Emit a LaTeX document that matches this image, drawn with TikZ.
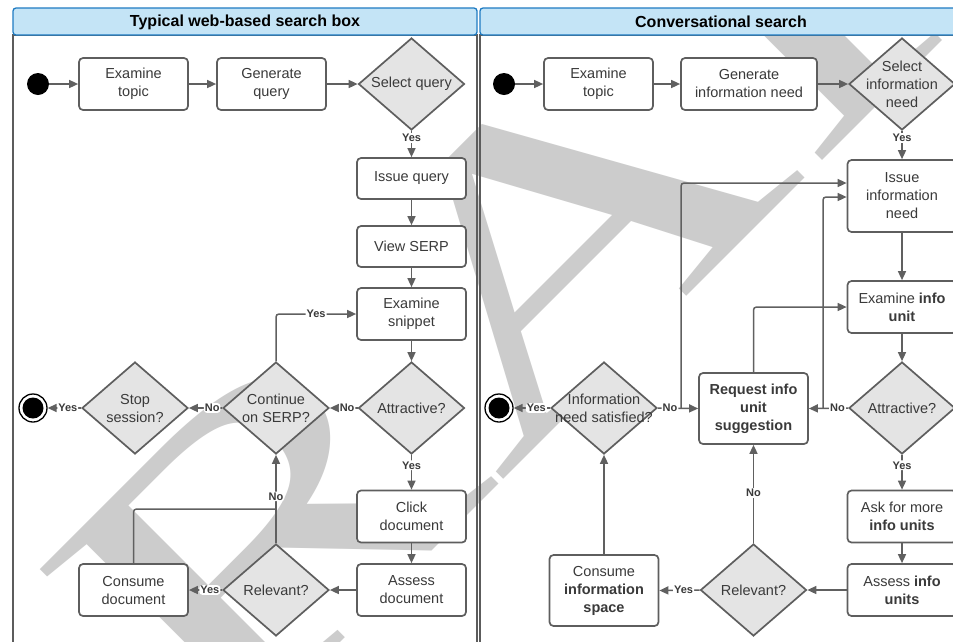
\documentclass[tikz,border=0pt]{standalone}
\usepackage{fontspec}
\setmainfont{Liberation Sans}
\newfontfamily\wmfont{Liberation Serif}
\usetikzlibrary{shapes.geometric,arrows.meta,calc}
\definecolor{hdrfill}{HTML}{C4E4F6}
\definecolor{hdrline}{HTML}{1F7BC2}
\definecolor{framecol}{HTML}{5C5C5C}
\definecolor{boxline}{HTML}{5E5E5E}
\definecolor{txt}{HTML}{3A3A3A}
\definecolor{difill}{HTML}{E4E4E4}
\definecolor{conn}{HTML}{606060}
\definecolor{wmcol}{HTML}{CCCCCC}

\begin{document}
\begin{tikzpicture}[x=1pt,y=-1pt,
  every node/.style={font=\fontsize{14.5}{18}\selectfont, text=txt},
  stepbox/.style={rectangle, rounded corners=4pt, draw=boxline, line width=1.7pt,
    fill=white, minimum width=109pt, minimum height=52pt, align=center, inner sep=2pt},
  decide/.style={diamond, draw=boxline, line width=1.7pt, fill=difill,
    minimum width=106pt, minimum height=92pt, inner sep=0pt},
  dtext/.style={align=center, text=txt, inner sep=0pt},
  startdot/.style={circle, fill=black, minimum size=22pt, inner sep=0pt},
  enddot/.style={circle, draw=black, line width=1.3pt, fill=white, minimum size=28pt,
    inner sep=0pt, path picture={\fill[black] (path picture bounding box.center) circle[radius=10.5pt];}},
  flow/.style={draw=conn, line width=1.5pt, rounded corners=3pt, -{Triangle[length=9pt,width=8pt]}},
  link/.style={draw=conn, line width=1.5pt, rounded corners=3pt},
  yn/.style={font=\bfseries\fontsize{11}{12}\selectfont, fill=white, inner sep=1pt, text=txt},
  hdr/.style={draw=hdrline, line width=1.3pt, fill=hdrfill, rounded corners=3pt},
  lane/.style={draw=framecol, line width=1.8pt, fill=white},
  title/.style={font=\bfseries\fontsize{16}{18}\selectfont, text=black},
  wmark/.style={font=\wmfont\fontsize{403}{403}\selectfont, text=wmcol, inner sep=0pt}
]
\useasboundingbox (0,0) rectangle (953,641);

% swimlanes
\draw[lane] (13,35) rectangle (477,700);
\draw[lane] (480,35) rectangle (962,700);
\draw[hdr] (13,8) rectangle (477,35);
\draw[hdr] (480,8) rectangle (962,35);
\node[title] (t1) at (245,22) {Typical web-based search box};
\node[title] (t2) at (721,22) {Conversational search};

% watermark, behind the flow
\begin{scope}
\clip (0,36) rectangle (953,641);
\node[wmark, rotate=45, xscale=1.5, anchor=base west] (wm) at (-94.7,1077.7) {DRAFT};
\end{scope}
\draw[framecol, line width=1.8pt] (13,35) -- (13,700) (477,35) -- (477,700) (480,35) -- (480,700);

% ---- left lane: search box ----
\node[startdot] (s1) at (38,84) {};
\node[stepbox] (ex1) at (133.5,84) {Examine\\topic};
\node[stepbox] (gen1) at (271.5,84) {Generate\\query};
\node[decide, label={[dtext]center:Select query}] (sel1) at (411.5,84) {};
\node[stepbox, minimum height=41pt] (iss1) at (411.5,178.5) {Issue query};
\node[stepbox, minimum height=41pt] (view1) at (411.5,246.5) {View SERP};
\node[stepbox] (exs1) at (411.5,314) {Examine\\snippet};
\node[decide, label={[dtext]center:Attractive?}] (att1) at (411.5,408) {};
\node[decide, label={[dtext]center:Continue\\on SERP?}] (cont1) at (276,408) {};
\node[decide, label={[dtext]center:Stop\\session?}] (stop1) at (135,408) {};
\node[enddot] (e1) at (33,408) {};
\node[stepbox] (clk1) at (411.5,516.5) {Click\\document};
\node[stepbox] (ass1) at (411.5,590) {Assess\\document};
\node[decide, label={[dtext]center:Relevant?}] (rel1) at (276,590) {};
\node[stepbox] (con1) at (133.5,590) {Consume\\document};
\coordinate (j1) at (276,509);

\draw[flow] (s1) -- (ex1);
\draw[flow] (ex1) -- (gen1);
\draw[flow] (gen1) -- (sel1);
\draw[flow] (sel1.south) -- node[yn, pos=0.27] {Yes} (iss1.north);
\draw[flow] (iss1) -- (view1);
\draw[flow] (view1) -- (exs1);
\draw[flow] (exs1) -- (att1);
\draw[flow] (att1.west) -- node[yn, pos=0.38] {No} (cont1.east);
\draw[flow] (cont1.west) -- node[yn, pos=0.3] {No} (stop1.east);
\draw[flow] (stop1.west) -- node[yn, pos=0.4] {Yes} (e1);
\draw[flow] (cont1.north) |- node[yn, pos=0.75] {Yes} (exs1.west);
\draw[flow] (att1.south) -- node[yn, pos=0.3] {Yes} (clk1.north);
\draw[flow] (clk1) -- (ass1);
\draw[flow] (ass1) -- (rel1);
\draw[flow] (rel1.west) -- node[yn, pos=0.37] {Yes} (con1.east);
\draw[flow] (rel1.north) -- node[yn, pos=0.53] {No} (cont1.south);
\draw[link] (con1.north) |- (j1);

% ---- right lane: conversational search ----
\node[startdot] (s2) at (504,84) {};
\node[stepbox] (ex2) at (598.5,84) {Examine\\topic};
\node[stepbox, minimum width=136pt] (gen2) at (749,84) {Generate\\information need};
\node[decide, label={[dtext]center:Select\\information\\need}] (sel2) at (902,84) {};
\node[stepbox, minimum height=72pt] (iss2) at (902,196) {Issue\\information\\need};
\node[stepbox] (exi2) at (902,307) {Examine \textbf{info}\\\textbf{unit}};
\node[decide, label={[dtext]center:Attractive?}] (att2) at (902,408) {};
\node[stepbox, minimum height=71pt, font=\bfseries\fontsize{14.5}{18}\selectfont] (req2) at (753.5,408.5) {Request info\\unit\\suggestion};
\node[decide, label={[dtext]center:Information\\need satisfied?}] (sat2) at (604,408) {};
\node[enddot] (e2) at (499,408) {};
\node[stepbox] (ask2) at (902,516.5) {Ask for more\\\textbf{info units}};
\node[stepbox] (ass2) at (902,590) {Assess \textbf{info}\\\textbf{units}};
\node[decide, label={[dtext]center:Relevant?}] (rel2) at (753.5,590) {};
\node[stepbox, minimum height=71pt] (con2) at (604,590.5) {Consume\\\textbf{information}\\\textbf{space}};
\coordinate (j2) at (681,408);
\coordinate (j3) at (823,408);

\draw[flow] (s2) -- (ex2);
\draw[flow] (ex2) -- (gen2);
\draw[flow] (gen2) -- (sel2);
\draw[flow] (sel2.south) -- node[yn, pos=0.25] {Yes} (iss2.north);
\draw[flow] (iss2) -- (exi2);
\draw[flow] (exi2) -- (att2);
\draw[flow] (att2.west) -- node[yn, pos=0.27] {No} (req2.east);
\draw[flow] (j3) |- ([yshift=-1pt]iss2.west);
\draw[flow] (sat2.east) -- node[yn, pos=0.3] {No} (req2.west);
\draw[flow] (j2) |- ([yshift=13pt]iss2.west);
\draw[flow] (sat2.west) -- node[yn, pos=0.38] {Yes} (e2);
\draw[flow] (req2.north) |- (exi2.west);
\draw[flow] (att2.south) -- node[yn, pos=0.3] {Yes} (ask2.north);
\draw[flow] (ask2) -- (ass2);
\draw[flow] (ass2) -- (rel2);
\draw[flow] (rel2.west) -- node[yn, pos=0.4] {Yes} (con2.east);
\draw[flow] (rel2.north) -- node[yn, pos=0.51] {No} (req2.south);
\draw[flow] (con2.north) -- (sat2.south);
\end{tikzpicture}
\end{document}
